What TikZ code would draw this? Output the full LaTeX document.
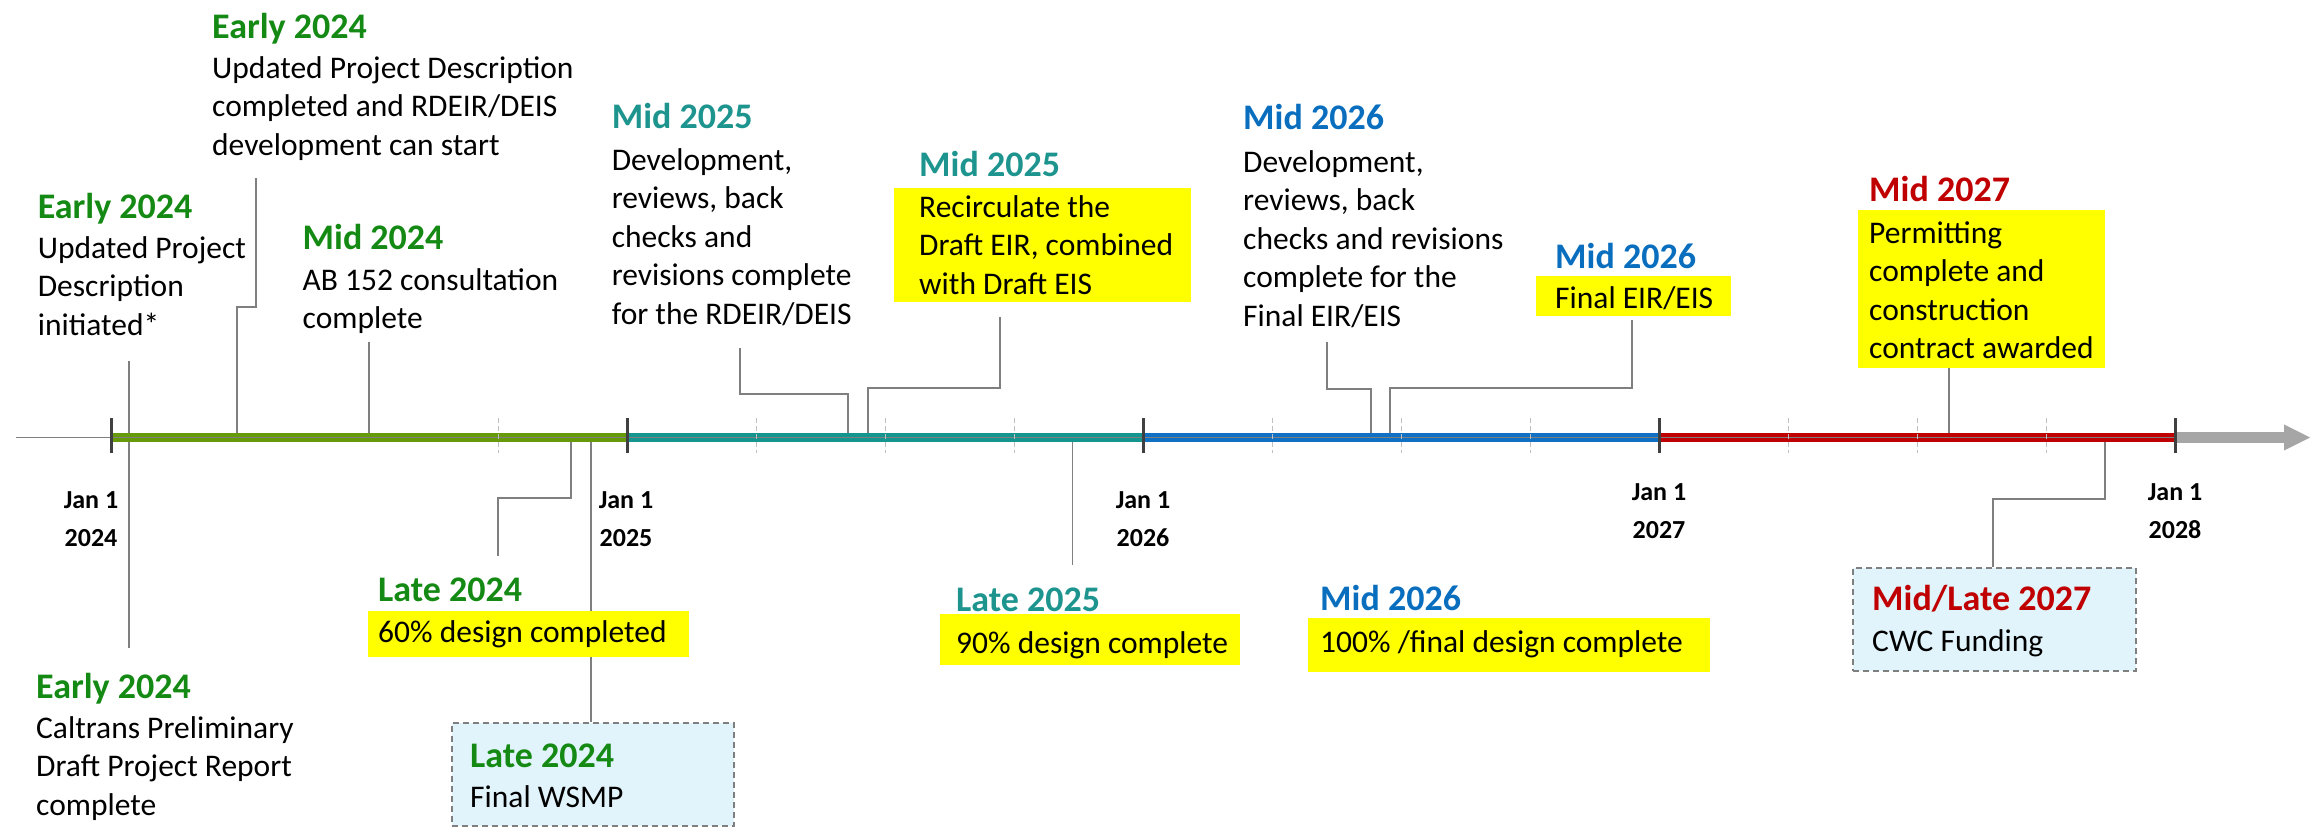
\documentclass[tikz,border=0pt]{standalone}
\usepackage{fontspec}
\setmainfont{Carlito}
\usetikzlibrary{backgrounds}
\definecolor{tgreen}{HTML}{148A14}
\definecolor{bgreen}{HTML}{669A0A}
\definecolor{tteal}{HTML}{1E948E}
\definecolor{bteal}{HTML}{14958F}
\definecolor{tblue}{HTML}{0A6EBE}
\definecolor{bblue}{HTML}{1070C4}
\definecolor{tred}{HTML}{C00000}
\definecolor{lgray}{HTML}{7F7F7F}
\definecolor{agray}{HTML}{A6A6A6}
\definecolor{tickc}{HTML}{404040}
\definecolor{qgray}{HTML}{C0C0C0}
\definecolor{lblue}{HTML}{E1F4FB}
\definecolor{hyel}{HTML}{FFFF00}
\begin{document}
\begin{tikzpicture}[x=1pt,y=-1pt,
  ttl/.style={anchor=base west, inner sep=0, font=\fontsize{36}{43}\selectfont\bfseries},
  body/.style={anchor=base west, inner sep=0, align=left, font=\fontsize{31.5}{38.6}\selectfont},
  datel/.style={anchor=base, inner sep=0, align=center, font=\fontsize{26}{38}\selectfont\bfseries},
  ybox/.style={fill=hyel, draw=none, anchor=north west, inner sep=0},
  dbox/.style={fill=lblue, draw=lgray, dash pattern=on 6pt off 4pt, line width=2pt, anchor=north west, inner sep=0},
  conn/.style={draw=lgray, line width=1.6pt},
  yeartick/.style={draw=tickc, line width=3.5pt},
  qtick/.style={draw=qgray, line width=1.2pt, dash pattern=on 5pt off 3pt}
]
\useasboundingbox (0,0) rectangle (2318,836);

% ---------- axis points ----------
\coordinate (y24) at (111.5,437.5);
\coordinate (y25) at (627.5,437.5);
\coordinate (y26) at (1143.5,437.5);
\coordinate (y27) at (1659.5,437.5);
\coordinate (y28) at (2175.5,437.5);
\coordinate (axL) at (16,437.5);
\coordinate (axR) at (2310,437.5);

\coordinate (pA) at (237,437.5);
\coordinate (pB) at (129,437.5);
\coordinate (pD) at (369,437.5);
\coordinate (pE) at (571,437.5);
\coordinate (pF) at (591,437.5);
\coordinate (pG) at (848,437.5);
\coordinate (pH) at (868,437.5);
\coordinate (pI) at (1072.5,437.5);
\coordinate (pJ) at (1371,437.5);
\coordinate (pK) at (1390,437.5);
\coordinate (pM) at (1949,437.5);
\coordinate (pN) at (2105,437.5);

% connector free ends
\coordinate (eA) at (256,178);
\coordinate (eB) at (129,361);
\coordinate (eC) at (129,648);
\coordinate (eD) at (369,342);
\coordinate (eE) at (498,556);
\coordinate (eG) at (740,348);
\coordinate (eH) at (1000,317);
\coordinate (eI) at (1072.5,565);
\coordinate (eJ) at (1327,342);
\coordinate (eK) at (1632,320);
\coordinate (eN) at (1993,499);

% ---------- texts (body nodes anchored at the baseline of their last line) ----------
% A
\node[ttl, text=tgreen] (tA) at (212,38.6) {Early 2024};
\node[body] (dA) at (212,155.2) {Updated Project Description\\completed and RDEIR/DEIS\\development can start};
% B
\node[ttl, text=tgreen] (tB) at (37.6,218.6) {Early 2024};
\node[body] (dB) at (37.6,335.2) {Updated Project\\Description\\initiated*};
% C
\node[ttl, text=tgreen] (tC) at (36,698.6) {Early 2024};
\node[body] (dC) at (36,815.2) {Caltrans Preliminary\\Draft Project Report\\complete};
% D
\node[ttl, text=tgreen] (tD) at (302.5,249.6) {Mid 2024};
\node[body] (dD) at (302.5,328.6) {AB 152 consultation\\complete};
% E
\node[ybox, minimum width=321, minimum height=46] (bE) at (368,611) {};
\node[ttl, text=tgreen] (tE) at (378,601.6) {Late 2024};
\node[body] (dE) at (378,642) {60\% design completed};
% F
\node[dbox, minimum width=282, minimum height=103] (bF) at (451,722) {};
\node[ttl, text=tgreen] (tF) at (470,767.6) {Late 2024};
\node[body] (dF) at (470,807) {Final WSMP};
% G
\node[ttl, text=tteal] (tG) at (611.6,128.6) {Mid 2025};
\node[body] (dG) at (611.6,324.4) {Development,\\reviews, back\\checks and\\revisions complete\\for the RDEIR/DEIS};
% H
\node[ybox, minimum width=297, minimum height=114] (bH) at (894,188) {};
\node[ttl, text=tteal] (tH) at (919,176.6) {Mid 2025};
\node[body] (dH) at (919,294.2) {Recirculate the\\Draft EIR, combined\\with Draft EIS};
% I
\node[ybox, minimum width=300, minimum height=51] (bI) at (940,614) {};
\node[ttl, text=tteal] (tI) at (956,611.6) {Late 2025};
\node[body] (dI) at (956,653) {90\% design complete};
% J
\node[ttl, text=tblue] (tJ) at (1243,129.6) {Mid 2026};
\node[body] (dJ) at (1243,326.4) {Development,\\reviews, back\\checks and revisions\\complete for the\\Final EIR/EIS};
% K
\node[ybox, minimum width=195, minimum height=40] (bK) at (1536,276) {};
\node[ttl, text=tblue] (tK) at (1555,268.6) {Mid 2026};
\node[body] (dK) at (1555,308) {Final EIR/EIS};
% L
\node[ybox, minimum width=402, minimum height=54] (bL) at (1308,618) {};
\node[ttl, text=tblue] (tL) at (1320,610.6) {Mid 2026};
\node[body] (dL) at (1320,652) {100\% /final design complete};
% M
\node[ybox, minimum width=247, minimum height=158] (bM) at (1858,210) {};
\node[ttl, text=tred] (tM) at (1869,201.6) {Mid 2027};
\node[body] (dM) at (1869,358.8) {Permitting\\complete and\\construction\\contract awarded};
% N
\node[dbox, minimum width=283, minimum height=103] (bN) at (1852,567) {};
\node[ttl, text=tred] (tN) at (1872,610.6) {Mid/Late 2027};
\node[body] (dN) at (1872,651) {CWC Funding};

% date labels
\node[datel] (l24) at (91,546) {Jan 1\\2024};
\node[datel] (l25) at (626,546) {Jan 1\\2025};
\node[datel] (l26) at (1143,546) {Jan 1\\2026};
\node[datel] (l27) at (1659,538) {Jan 1\\2027};
\node[datel] (l28) at (2175,538) {Jan 1\\2028};

% ---------- background: connectors and bar ----------
\begin{pgfonlayer}{background}
\draw[conn] (pA) |- (eA |- 0,307) -- (eA);
\draw[conn] (pB) -- (eB);
\draw[conn] (pB) -- (eC);
\draw[conn] (pD) -- (eD);
\draw[conn] (pE) |- (eE |- 0,498) -- (eE);
\draw[conn] (pF) -- (pF |- bF.north);
\draw[conn] (pG) |- (eG |- 0,394) -- (eG);
\draw[conn] (pH) |- (eH |- 0,388) -- (eH);
\draw[conn] (pI) -- (eI);
\draw[conn] (pJ) |- (eJ |- 0,389) -- (eJ);
\draw[conn] (pK) |- (eK |- 0,388) -- (eK);
\draw[conn] (pM) -- (pM |- bM.south);
\draw[conn] (pN) |- (eN) -- (eN |- bN.north);

% bar
\fill[bgreen] (111.5,433) rectangle (627.5,442);
\fill[bteal] (627.5,433) rectangle (1143.5,442);
\fill[bblue] (1143.5,433) rectangle (1659.5,442);
\fill[tred] (1659.5,433) rectangle (2175.5,442);
\fill[agray] (2175.5,432) rectangle (2285,443);
\fill[agray] (2284,424.5) -- (axR) -- (2284,450.5) -- cycle;
\draw[lgray, line width=1.6pt] (axL) -- (y28);

% quarter ticks
\foreach \qx in {498.5,756.5,885.5,1014.5,1272.5,1401.5,1530.5,1788.5,1917.5,2046.5}
  \draw[qtick] (\qx,418) -- (\qx,453);
% year ticks
\foreach \yn in {y24,y25,y26,y27,y28}
  \draw[yeartick] ([yshift=19.5pt]\yn) -- ([yshift=-15.5pt]\yn);
\end{pgfonlayer}
\end{tikzpicture}
\end{document}
